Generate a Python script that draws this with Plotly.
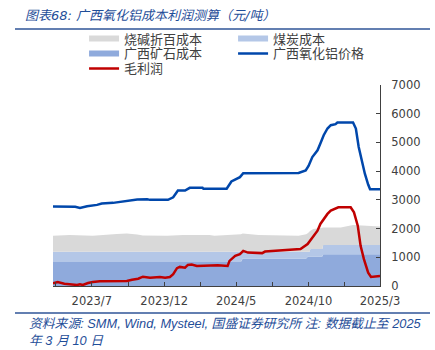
import plotly.graph_objects as go

# Cost components (元/吨), stacked from the bottom up
cost_dates = [
    "2023-04-19", "2023-05-24", "2023-07-12", "2023-09-01", "2023-09-22",
    "2023-10-14", "2023-10-26", "2023-12-16", "2024-01-19", "2024-03-15",
    "2024-03-25", "2024-05-20", "2024-05-24", "2024-06-26", "2024-09-19",
    "2024-10-05", "2024-10-09", "2024-10-12", "2024-10-14", "2024-10-20",
    "2024-11-08", "2024-11-10", "2024-12-17", "2025-01-12", "2025-03-10",
]
ore_cost = [
    840, 840, 840, 840, 840,
    840, 840, 840, 840, 840,
    840, 840, 955, 955, 955,
    955, 1030, 1030, 1030, 1030,
    1030, 1110, 1110, 1110, 1110,
]
coal_cost = [
    350, 350, 350, 350, 350,
    350, 350, 350, 350, 350,
    350, 350, 235, 235, 235,
    235, 160, 160, 255, 255,
    255, 315, 315, 315, 315,
]
caustic_cost = [
    560, 585, 560, 620, 640,
    600, 570, 560, 585, 585,
    560, 610, 640, 585, 560,
    610, 660, 710, 640, 700,
    745, 615, 615, 700, 650,
]

# Guangxi alumina price
price_dates = [
    "2023-04-19", "2023-06-05", "2023-06-15", "2023-06-30", "2023-07-21",
    "2023-07-31", "2023-08-24", "2023-09-07", "2023-09-29", "2023-10-14",
    "2023-11-04", "2023-11-10", "2023-12-18", "2023-12-29", "2024-01-08",
    "2024-01-23", "2024-02-02", "2024-02-29", "2024-03-02", "2024-04-20",
    "2024-04-30", "2024-05-12", "2024-05-18", "2024-05-25", "2024-09-19",
    "2024-10-04", "2024-10-10", "2024-10-18", "2024-10-29", "2024-11-04",
    "2024-11-11", "2024-11-19", "2024-11-26", "2024-12-06", "2024-12-10",
    "2025-01-12", "2025-01-18", "2025-01-24", "2025-02-02", "2025-02-06",
    "2025-02-13", "2025-02-17", "2025-03-10",
]
price = [
    2765, 2760, 2720, 2775, 2825,
    2870, 2895, 2930, 2965, 3010,
    3020, 3000, 3000, 3090, 3325,
    3325, 3420, 3420, 3385, 3385,
    3640, 3735, 3790, 3930, 3935,
    4025, 4180, 4490, 4725, 4960,
    5250, 5485, 5600, 5635, 5695,
    5695, 5485, 4840, 4200, 3910,
    3535, 3370, 3370,
]

# Gross profit
profit_dates = [
    "2023-04-19", "2023-04-29", "2023-05-13", "2023-05-28", "2023-06-09",
    "2023-06-15", "2023-06-21", "2023-07-02", "2023-07-12", "2023-07-27",
    "2023-08-17", "2023-09-22", "2023-10-03", "2023-10-16", "2023-10-26",
    "2023-11-10", "2023-12-01", "2023-12-12", "2023-12-22", "2023-12-29",
    "2024-01-06", "2024-01-12", "2024-01-23", "2024-01-29", "2024-02-06",
    "2024-02-17", "2024-04-01", "2024-04-22", "2024-04-26", "2024-05-08",
    "2024-05-18", "2024-05-25", "2024-06-04", "2024-07-04", "2024-07-10",
    "2024-08-15", "2024-09-23", "2024-10-08", "2024-10-18", "2024-10-29",
    "2024-11-04", "2024-11-11", "2024-11-19", "2024-11-26", "2024-12-06",
    "2024-12-12", "2025-01-07", "2025-01-14", "2025-01-22", "2025-01-28",
    "2025-02-04", "2025-02-13", "2025-02-19", "2025-03-01", "2025-03-10",
]
profit = [
    90, 140, 80, 60, 35,
    60, 35, 105, 140, 165,
    175, 175, 220, 255, 325,
    290, 315, 290, 315, 410,
    620, 665, 640, 735, 745,
    700, 725, 700, 875, 1050,
    1110, 1225, 1165, 1145, 1200,
    1250, 1285, 1460, 1690, 1925,
    2160, 2335, 2510, 2625, 2685,
    2740, 2740, 2565, 2100, 1400,
    935, 465, 315, 340, 350,
]

tick_dates = [
    "2023-04-25", "2023-07-10", "2023-09-25", "2023-12-10", "2024-02-25",
    "2024-05-10", "2024-07-25", "2024-10-10", "2024-12-25", "2025-03-10",
]
tick_text = ["", "2023/7", "", "2023/12", "", "2024/5", "", "2024/10", "", "2025/3"]
y_ticks = [0, 1000, 2000, 3000, 4000, 5000, 6000, 7000]

CJK = "Noto Sans CJK SC"
NUM = "DejaVu Sans, Noto Sans CJK SC"
NOTE = "Liberation Sans, Noto Sans CJK SC"
BLUE_TXT = "#1F4E99"

fig = go.Figure()

fig.add_trace(go.Scatter(
    x=cost_dates, y=ore_cost, name="广西矿石成本", stackgroup="cost",
    mode="none", fillcolor="#8FAADC", legend="legend2", legendrank=1,
))
fig.add_trace(go.Scatter(
    x=cost_dates, y=coal_cost, name="煤炭成本", stackgroup="cost",
    mode="none", fillcolor="#B4C7E7", legend="legend", legendrank=2,
))
fig.add_trace(go.Scatter(
    x=cost_dates, y=caustic_cost, name="烧碱折百成本", stackgroup="cost",
    mode="none", fillcolor="#D9D9D9", legend="legend", legendrank=1,
))
fig.add_trace(go.Scatter(
    x=price_dates, y=price, name="广西氧化铝价格", mode="lines",
    line=dict(color="#0047AB", width=2.5), legend="legend2", legendrank=2,
))
fig.add_trace(go.Scatter(
    x=profit_dates, y=profit, name="毛利润", mode="lines",
    line=dict(color="#C00000", width=2.5), legend="legend3",
))

legend_common = dict(
    orientation="h", xanchor="left", yanchor="top", x=0.095,
    traceorder="normal",
    entrywidth=104, entrywidthmode="pixels", itemwidth=30,
    bgcolor="rgba(0,0,0,0)", font=dict(family=CJK, size=13, color="#404040"),
)

fig.update_layout(
    width=435, height=350,
    margin=dict(l=53, r=55, t=85, b=64),
    paper_bgcolor="white", plot_bgcolor="white",
    showlegend=True,
    legend=dict(legend_common, y=1.306),
    legend2=dict(legend_common, y=1.2315),
    legend3=dict(legend_common, y=1.157),
    title=dict(
        text="<i>图表68: 广西氧化铝成本利润测算（元/吨）</i>",
        x=25 / 435, xanchor="left", xref="container",
        y=1 - 15 / 350, yanchor="middle", yref="container",
        font=dict(family=NUM, size=13, color=BLUE_TXT),
    ),
    xaxis=dict(
        type="date", range=["2023-04-19", "2025-03-10"],
        tickvals=tick_dates, ticktext=tick_text,
        ticks="inside", ticklen=4, tickcolor="#404040",
        showline=True, linecolor="#404040", linewidth=1,
        showgrid=False, zeroline=False,
        tickfont=dict(family=NUM, size=11.5, color="#404040"),
        ticklabelstandoff=4,
    ),
    yaxis=dict(
        side="right", range=[0, 7000], tickvals=y_ticks,
        ticks="inside", ticklen=4, tickcolor="#404040",
        showline=True, linecolor="#404040", linewidth=1,
        showgrid=False, zeroline=False,
        tickfont=dict(family=NUM, size=11.5, color="#404040"),
        ticklabelstandoff=8,
    ),
    shapes=[
        dict(type="line", xref="paper", yref="paper",
             x0=(15 - 53) / 327, x1=(430 - 53) / 327,
             y0=1 + (85 - 29) / 201, y1=1 + (85 - 29) / 201,
             line=dict(color="#2F5597", width=1.5)),
        dict(type="line", xref="paper", yref="paper",
             x0=(15 - 53) / 327, x1=(430 - 53) / 327,
             y0=-(313 - 286) / 201, y1=-(313 - 286) / 201,
             line=dict(color="#2F5597", width=1.5)),
    ],
    annotations=[
        dict(
            text="<i>资料来源: SMM, Wind, Mysteel, 国盛证券研究所 注: 数据截止至 2025<br>年 3 月 10 日</i>",
            xref="paper", yref="paper", x=(27 - 53) / 327, y=-(314 - 286) / 201,
            xanchor="left", yanchor="top", align="left", showarrow=False,
            font=dict(family=NOTE, size=12.8, color=BLUE_TXT),
        ),
    ],
)

fig.write_html("out.html")
